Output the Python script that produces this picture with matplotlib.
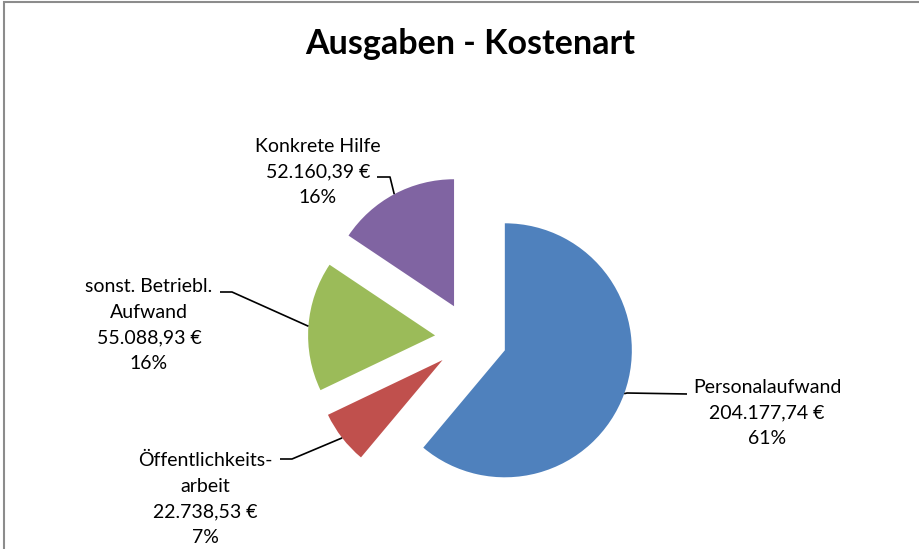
import numpy as np
import matplotlib
matplotlib.use('Agg')
import matplotlib.pyplot as plt
from matplotlib.patches import Rectangle

# data
categories = ['Personalaufwand', 'Öffentlichkeits-\narbeit',
              'sonst. Betriebl.\nAufwand', 'Konkrete Hilfe']
values = [204177.74, 22738.53, 55088.93, 52160.39]
colors = ['#4F81BD', '#C0504D', '#9BBB59', '#8064A2']

# label layout (pixel coords, y up): text centre, elbow of leader line, text end
label_pos = [(767, 136), (205, 50), (149, 224), (318, 377)]
elbows = [(627, 156), (292, 90), (232, 257), (390, 372)]
line_ends = [(687, 155), (280, 90), (220, 257), (377, 372)]

center = (471, 211)
radius = 127
explode = 36

plt.rcParams['font.family'] = ['Lato', 'DejaVu Sans']

fig = plt.figure(figsize=(9.2, 5.49), dpi=100)
ax = fig.add_axes([0, 0, 1, 1])

wedges, _ = ax.pie(values, colors=colors, startangle=90, counterclock=False,
                   center=center, radius=radius, explode=[explode] * len(values),
                   wedgeprops=dict(linewidth=0))
ax.set_xlim(0, 920)
ax.set_ylim(0, 549)
ax.axis('off')

total = sum(values)


def fmt_eur(v):
    s = '{:,.2f}'.format(v)
    return s.replace(',', 'X').replace('.', ',').replace('X', '.') + ' €'


for w, cat, val, tp, el, le in zip(wedges, categories, values, label_pos,
                                   elbows, line_ends):
    mid = np.deg2rad((w.theta1 + w.theta2) / 2)
    cx, cy = w.center
    px = cx + w.r * np.cos(mid)
    py = cy + w.r * np.sin(mid)
    ax.plot([px, el[0], le[0]], [py, el[1], le[1]], color='black', lw=1.2,
            solid_capstyle='butt')
    txt = '{}\n{}\n{:.0f}%'.format(cat, fmt_eur(val), 100 * val / total)
    ax.text(tp[0], tp[1], txt, ha='center', va='center', fontsize=14,
            linespacing=1.6)

ax.text(470, 505, 'Ausgaben - Kostenart', ha='center', va='center',
        fontsize=24.5, fontweight='bold')

# chart frame
ax.add_patch(Rectangle((4, -10), 1000, 557, fill=False, edgecolor='#8c8c8c',
                       lw=1.5, clip_on=False))

fig.savefig('out.png', dpi=100)
